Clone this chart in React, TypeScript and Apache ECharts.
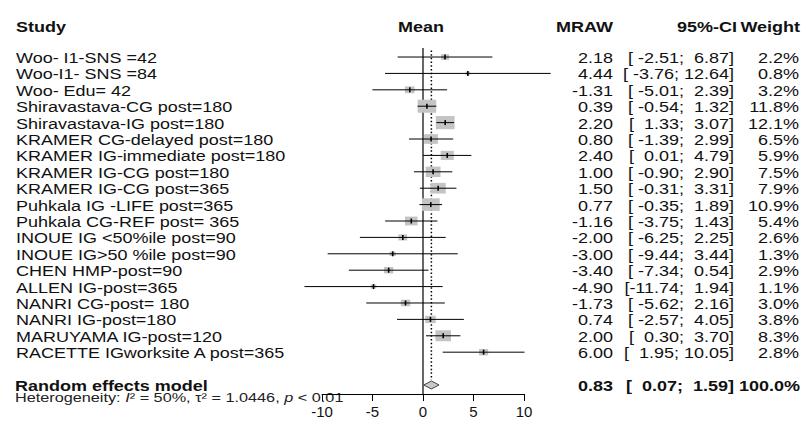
import React, { useEffect, useRef } from "react";
import * as echarts from "echarts";

// ---------- data ----------
const studies = [
  "Woo- I1-SNS =42",
  "Woo-I1- SNS =84",
  "Woo- Edu= 42",
  "Shiravastava-CG post=180",
  "Shiravastava-IG post=180",
  "KRAMER CG-delayed post=180",
  "KRAMER IG-immediate post=180",
  "KRAMER IG-CG post=180",
  "KRAMER IG-CG post=365",
  "Puhkala IG -LIFE post=365",
  "Puhkala CG-REF post= 365",
  "INOUE IG <50%ile post=90",
  "INOUE IG>50 %ile post=90",
  "CHEN HMP-post=90",
  "ALLEN IG-post=365",
  "NANRI CG-post= 180",
  "NANRI IG-post=180",
  "MARUYAMA IG-post=120",
  "RACETTE IGworksite A post=365",
];
const mraw = [2.18, 4.44, -1.31, 0.39, 2.2, 0.8, 2.4, 1.0, 1.5, 0.77, -1.16, -2.0, -3.0, -3.4, -4.9, -1.73, 0.74, 2.0, 6.0];
const ciLower = [-2.51, -3.76, -5.01, -0.54, 1.33, -1.39, 0.01, -0.9, -0.31, -0.35, -3.75, -6.25, -9.44, -7.34, -11.74, -5.62, -2.57, 0.3, 1.95];
const ciUpper = [6.87, 12.64, 2.39, 1.32, 3.07, 2.99, 4.79, 2.9, 3.31, 1.89, 1.43, 2.25, 3.44, 0.54, 1.94, 2.16, 4.05, 3.7, 10.05];
const weights = [2.2, 0.8, 3.2, 11.8, 12.1, 6.5, 5.9, 7.5, 7.9, 10.9, 5.4, 2.6, 1.3, 2.9, 1.1, 3.0, 3.8, 8.3, 2.8];

const pooledLabel = "Random effects model";
const pooledMean = 0.83;
const pooledLower = 0.07;
const pooledUpper = 1.59;
const pooledWeight = 100.0;

const headers = { study: "Study", mean: "Mean", est: "MRAW", ci: "95%-CI", weight: "Weight" };
const heterogeneityText = "Heterogeneity: {i|I}² = 50%, τ² = 1.0446, {i|p} < 0.01";

const xMin = -10;
const xMax = 10;
const xInterval = 5;

// ---------- style ----------
const FONT = '"Liberation Sans", Arial, Helvetica, sans-serif';
const SX = 1.2;
const FS = 15;
const INK = "#111";

const fmtCI = (lo: number, hi: number) =>
  "[" + lo.toFixed(2).padStart(6, " ") + "; " + hi.toFixed(2).padStart(5, " ") + "]";

const txt = (text: string, x: number, y: number, align: string, bold = false, fs = FS, sx = SX) => ({
  type: "text",
  x,
  y,
  scaleX: sx,
  style: {
    text,
    fontSize: fs,
    fontFamily: FONT,
    fontWeight: bold ? "bold" : "normal",
    fill: INK,
    align,
    verticalAlign: "middle",
    textAlign: align,
    textVerticalAlign: "middle",
  },
});

export default function App() {
  const ref = useRef<HTMLDivElement>(null);

  useEffect(() => {
    const chart = echarts.init(ref.current!, null, { renderer: "svg" });
    const n = studies.length;
    const pooledRow = n + 1;

    const studyData = studies.map((_, i) => [mraw[i], ciLower[i], ciUpper[i], weights[i], i]);

    const option: any = {
      animation: false,
      backgroundColor: "#fff",
      grid: { left: 322, top: 48, width: 202, height: 346, containLabel: false },
      xAxis: {
        type: "value",
        min: xMin,
        max: xMax,
        interval: xInterval,
        position: "bottom",
        axisLine: { show: true, onZero: false, lineStyle: { color: "#000", width: 1 } },
        axisTick: { show: true, length: 7, lineStyle: { color: "#000", width: 1 } },
        axisLabel: { color: INK, fontSize: 15, fontFamily: FONT, margin: 10 },
        splitLine: { show: false },
      },
      yAxis: { type: "value", min: -0.55, max: 20.55, inverse: true, show: false },
      graphic: [
        txt(headers.study, 16, 27, "left", true),
        txt(headers.mean, 421, 27, "center", true),
        txt(headers.est, 613, 27, "right", true),
        txt(headers.ci, 737, 27, "right", true),
        txt(headers.weight, 800, 27, "right", true),
        {
          type: "text",
          x: 15,
          y: 398,
          scaleX: 1.25,
          style: {
            text: heterogeneityText,
            fontSize: 13,
            fontFamily: FONT,
            fill: "#222",
            align: "left",
            verticalAlign: "middle",
            textAlign: "left",
            textVerticalAlign: "middle",
            rich: { i: { fontStyle: "italic", fontSize: 13, fontFamily: FONT, fill: "#222" } },
          },
        },
      ],
      series: [
        {
          type: "custom",
          name: "reference lines",
          silent: true,
          clip: false,
          data: [[pooledMean, pooledRow]],
          encode: { x: 0, y: 1 },
          renderItem: (params: any, api: any) => {
            const top0 = api.coord([0, -0.55]);
            const bot0 = api.coord([0, 20.55]);
            const topM = api.coord([api.value(0), -0.4]);
            const botM = api.coord([api.value(0), api.value(1) - 0.3]);
            return {
              type: "group",
              children: [
                {
                  type: "line",
                  shape: { x1: top0[0], y1: top0[1], x2: bot0[0], y2: bot0[1] },
                  style: { stroke: "#000", lineWidth: 1.2 },
                },
                {
                  type: "line",
                  shape: { x1: topM[0], y1: topM[1], x2: botM[0], y2: botM[1] },
                  style: { stroke: "#000", lineWidth: 1.5, lineDash: [1.5, 2.2] },
                },
              ],
            };
          },
        },
        {
          type: "custom",
          name: "studies",
          silent: true,
          clip: false,
          data: studyData,
          encode: { x: [0, 1, 2], y: 4 },
          renderItem: (params: any, api: any) => {
            const i = params.dataIndex;
            const est = api.value(0);
            const lo = api.value(1);
            const hi = api.value(2);
            const w = api.value(3);
            const row = api.value(4);
            const c = api.coord([est, row]);
            const l = api.coord([lo, row]);
            const h = api.coord([hi, row]);
            const bw = 5.4 * Math.sqrt(w);
            const bh = 3.8 * Math.sqrt(w);
            const ty = c[1] + 1;
            return {
              type: "group",
              children: [
                {
                  type: "rect",
                  shape: { x: c[0] - bw / 2, y: c[1] - bh / 2, width: bw, height: bh },
                  style: { fill: "#c4c4c4" },
                },
                {
                  type: "line",
                  shape: { x1: l[0], y1: c[1], x2: h[0], y2: c[1] },
                  style: { stroke: "#000", lineWidth: 1 },
                },
                {
                  type: "line",
                  shape: { x1: c[0], y1: c[1] - 2.5, x2: c[0], y2: c[1] + 2.5 },
                  style: { stroke: "#000", lineWidth: 1.6 },
                },
                txt(studies[i], 16, ty, "left"),
                txt(est.toFixed(2), 613, ty, "right"),
                txt(fmtCI(lo, hi), 734, ty, "right"),
                txt(w.toFixed(1) + "%", 799, ty, "right"),
              ],
            };
          },
        },
        {
          type: "custom",
          name: "pooled",
          silent: true,
          clip: false,
          data: [[pooledMean, pooledLower, pooledUpper, pooledWeight, pooledRow]],
          encode: { x: [0, 1, 2], y: 4 },
          renderItem: (params: any, api: any) => {
            const est = api.value(0);
            const lo = api.value(1);
            const hi = api.value(2);
            const w = api.value(3);
            const row = api.value(4);
            const c = api.coord([est, row]);
            const l = api.coord([lo, row]);
            const h = api.coord([hi, row]);
            const ty = c[1] + 1.5;
            return {
              type: "group",
              children: [
                {
                  type: "polygon",
                  shape: {
                    points: [
                      [l[0], c[1]],
                      [c[0], c[1] - 4],
                      [h[0], c[1]],
                      [c[0], c[1] + 4],
                    ],
                  },
                  style: { fill: "#c8c8c8", stroke: "#444", lineWidth: 1 },
                },
                txt(pooledLabel, 15, ty, "left", true),
                txt(est.toFixed(2), 613, ty, "right", true),
                txt(fmtCI(lo, hi), 734, ty, "right", true),
                txt(w.toFixed(1) + "%", 800, ty, "right", true),
              ],
            };
          },
        },
      ],
    };

    chart.setOption(option);
    return () => chart.dispose();
  }, []);

  return (
    <div
      ref={ref}
      style={{ position: "fixed", left: 0, top: 0, width: 803, height: 423, background: "#fff" }}
    />
  );
}
